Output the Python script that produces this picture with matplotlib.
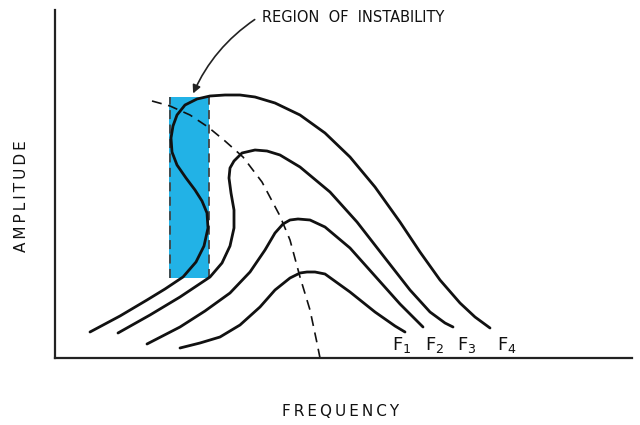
import numpy as np
import matplotlib.pyplot as plt

# response curves (frequency, amplitude), arbitrary units
f1_freq = [125, 145, 165, 185, 205, 220, 235, 245, 252, 260, 270, 295, 320, 340, 350]
f1_amp = [10, 15, 21, 33, 51, 68, 80, 85, 86, 86, 84, 66, 46, 32, 26]

f2_freq = [92, 125, 150, 175, 195, 210, 220, 228, 235, 243, 255, 270, 295,
           320, 345, 368]
f2_amp = [14, 31, 47, 65, 86, 108, 125, 134, 138, 139, 138, 131, 110, 82, 54, 31]

f3_freq = [63, 95, 125, 155, 167, 175, 179, 179, 176, 174, 175, 179, 187, 200,
           212, 225, 245, 275, 302, 330, 355, 375, 390, 398]
f3_amp = [25, 43, 61, 81, 95, 112, 130, 148, 165, 180, 190, 197, 205, 208,
          207, 203, 191, 166, 136, 100, 68, 46, 35, 31]

f4_freq = [35, 65, 92, 110, 128, 141, 149, 153, 152, 147, 140, 131, 122, 117,
           116, 118, 122, 130, 142, 155, 170, 185, 200, 220, 245, 270, 295,
           320, 345, 365, 385, 405, 420, 435]
f4_amp = [26, 42, 58, 69, 81, 96, 112, 130, 145, 157, 168, 180, 193, 206,
          220, 232, 243, 253, 259, 262, 263, 263, 261, 255, 243, 225, 201,
          171, 136, 106, 78, 55, 41, 30]

# backbone (dashed)
bb_freq = [97, 115, 135, 153, 170, 188, 207, 225, 235, 245, 255, 262, 265]
bb_amp = [257, 252, 243, 231, 217, 201, 176, 142, 118, 81, 48, 15, 0]

# unstable band
band_lo, band_hi = 114, 154
band_bottom, band_top = 80, 261

labels = ['F$_1$', 'F$_2$', 'F$_3$', 'F$_4$']
label_x = [337, 370, 402, 442]

fig = plt.figure(figsize=(6.4, 4.25), dpi=100)
ax = fig.add_axes([55 / 640, 67 / 425, 577 / 640, 348 / 425])
ax.set_xlim(0, 577)
ax.set_ylim(0, 348)

ink = '#111111'
ax.add_patch(plt.Rectangle((band_lo, band_bottom), band_hi - band_lo,
                           band_top - band_bottom, color='#22b2e6', lw=0))
for xb in (band_lo + 1, band_hi):
    ax.plot([xb, xb], [band_bottom, band_top], color='#444444', lw=1.3,
            dashes=(5, 3))

for fx, fy in [(f1_freq, f1_amp), (f2_freq, f2_amp), (f3_freq, f3_amp), (f4_freq, f4_amp)]:
    ax.plot(fx, fy, color=ink, lw=2.0, solid_capstyle='round', solid_joinstyle='round')

ax.plot(bb_freq, bb_amp, color=ink, lw=1.2, dashes=(6, 4))

for lab, lx in zip(labels, label_x):
    ax.text(lx, 8, lab, fontsize=13, family='Liberation Sans Narrow',
            ha='left', va='baseline', color=ink)

ax.annotate('', xy=(137, 262), xytext=(202, 340),
            arrowprops=dict(arrowstyle='-|>', color='#222222', lw=1.2,
                            mutation_scale=12,
                            connectionstyle='arc3,rad=0.15'))
ax.text(207, 340, 'REGION  OF  INSTABILITY', fontsize=10.5,
        family='Liberation Sans Narrow', ha='left', va='center', color=ink)

for s in ['top', 'right']:
    ax.spines[s].set_visible(False)
for s in ['left', 'bottom']:
    ax.spines[s].set_linewidth(1.6)
    ax.spines[s].set_color('#222222')
ax.set_xticks([])
ax.set_yticks([])

thin = '\u2009'
fig.text(341 / 640, 1 - 412 / 425, thin.join('FREQUENCY'), fontsize=11,
         family='Liberation Sans Narrow', ha='center', va='center', color=ink)
fig.text(22 / 640, 1 - 196 / 425, thin.join('AMPLITUDE'), fontsize=11,
         family='Liberation Sans Narrow', ha='center', va='center',
         rotation=90, color=ink)

fig.savefig('out.png', dpi=100)
